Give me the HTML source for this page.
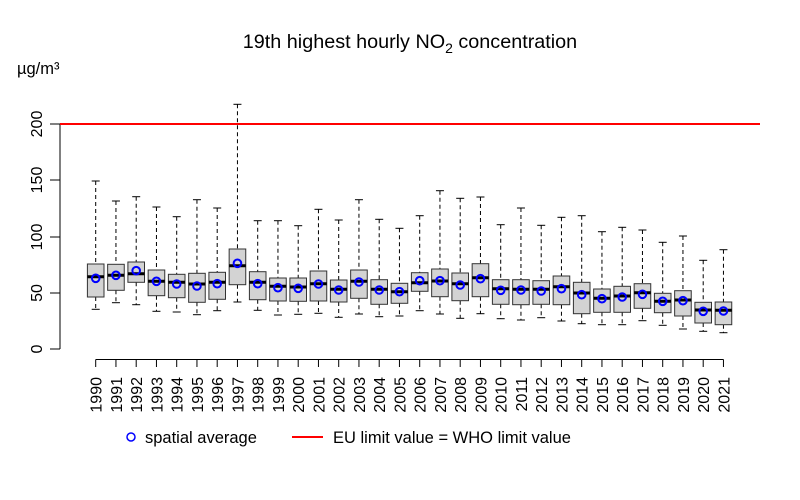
<!DOCTYPE html>
<html><head><meta charset="utf-8"><style>
html,body{margin:0;padding:0;background:#fff}
svg{display:block;font-family:"Liberation Sans",Arial,sans-serif}
</style></head><body>
<svg id="s" width="800" height="500" viewBox="0 0 800 500" xmlns="http://www.w3.org/2000/svg">
<rect width="800" height="500" fill="#fff"/>
<text x="410" y="48" font-size="19.8" text-anchor="middle">19th highest hourly NO<tspan font-size="14" dy="5">2</tspan><tspan dy="-5"> concentration</tspan></text>
<text x="17" y="74" font-size="16.5">µg/m³</text>
<g stroke="#000" stroke-width="1" fill="none">
<line x1="60" y1="124" x2="60" y2="349"/>
<line x1="50" y1="124" x2="60" y2="124"/>
<line x1="50" y1="180" x2="60" y2="180"/>
<line x1="50" y1="237" x2="60" y2="237"/>
<line x1="50" y1="293" x2="60" y2="293"/>
<line x1="50" y1="349" x2="60" y2="349"/>
</g>
<g font-size="16" text-anchor="middle">
<text transform="translate(42,124) rotate(-90)">200</text>
<text transform="translate(42,180) rotate(-90)">150</text>
<text transform="translate(42,237) rotate(-90)">100</text>
<text transform="translate(42,293) rotate(-90)">50</text>
<text transform="translate(42,349) rotate(-90)">0</text>
</g>
<line x1="60" y1="124" x2="760" y2="124" stroke="#f00" stroke-width="2"/>
<g id="boxes"></g>
<g id="xax"></g>
<circle cx="131" cy="437" r="4" fill="none" stroke="#00f" stroke-width="1.5"/>
<text x="145" y="443" font-size="16.5">spatial average</text>
<line x1="292" y1="437" x2="323" y2="437" stroke="#f00" stroke-width="2"/>
<text x="333" y="443" font-size="16.5">EU limit value = WHO limit value</text>
</svg>
<script>
var d=[
[181,264,276.7,297,309.3,278.3],[201,264.3,275.3,290.3,302.7,275.3],[196.7,262,273.7,282.3,304.7,270.7],
[207,270,281.3,295.7,311.3,281.3],[216.7,274.3,282.3,297.7,312,284],[199.7,273.3,284,302.3,314.7,286],
[208,272.3,282.3,299.3,310.7,283.7],[104.3,249,265.7,284.7,302,263.3],[220.7,271.7,282.3,299.7,310.3,283.7],
[220.7,278,286.3,301,315,287.7],[225.7,278,287,301.3,314.3,288.3],[209.3,271,283.7,301,313.3,284],
[220,280,289.3,302,317.3,290],[199.7,270,281.3,298.3,314,282],[219.3,279.7,289.3,304.3,316.7,290],
[228.3,283.3,291.7,303.3,316,291.7],[215.7,272.7,282.7,291.3,310.7,280.7],[190.7,269,281,296.7,314,280.7],
[198.3,273,283.7,300.7,318.3,285],[197,263.7,277.7,296.7,313.7,278.7],[224.7,279.7,288.7,304.3,318.7,290.3],
[208,279.7,289.3,304.7,320,290],[225.3,280.7,289.3,304.3,317.7,291],[217.3,276,286.7,304.7,321,288.7],
[215.7,282.3,293,313.7,323.7,294.7],[231.7,289,298.3,312.3,324.7,298.7],[227.3,286.3,296,312.3,324.7,297],
[230,283.7,292.7,308.3,320.7,294.3],[242.3,293.3,301.3,312.7,325.3,301.3],[236,290.7,300,316,329,300.7],
[260.3,302.3,310,323,331.3,311.3],[249.7,302,310.3,324.7,332.7,311]];
var h="";
for(var i=0;i<d.length;i++){var c=95.7+20.25*i,r=d[i],w=8.3;
h+='<line x1="'+c+'" y1="'+r[0]+'" x2="'+c+'" y2="'+r[1]+'" stroke="#000" stroke-dasharray="4,3"/>';
h+='<line x1="'+c+'" y1="'+r[3]+'" x2="'+c+'" y2="'+r[4]+'" stroke="#000" stroke-dasharray="4,3"/>';
h+='<line x1="'+(c-4)+'" y1="'+r[0]+'" x2="'+(c+4)+'" y2="'+r[0]+'" stroke="#000"/>';
h+='<line x1="'+(c-4)+'" y1="'+r[4]+'" x2="'+(c+4)+'" y2="'+r[4]+'" stroke="#000"/>';
h+='<rect x="'+(c-w)+'" y="'+r[1]+'" width="'+(2*w)+'" height="'+(r[3]-r[1])+'" fill="#d3d3d3" stroke="#333"/>';
h+='<line x1="'+(c-w)+'" y1="'+r[2]+'" x2="'+(c+w)+'" y2="'+r[2]+'" stroke="#000" stroke-width="3"/>';
h+='<circle cx="'+c+'" cy="'+r[5]+'" r="3.8" fill="none" stroke="#00f" stroke-width="2"/>';}
document.getElementById("boxes").innerHTML=h;
var x='<line x1="95.7" y1="359.5" x2="723.5" y2="359.5" stroke="#000"/>';
for(var i=0;i<32;i++){var c=95.7+20.25*i;
x+='<line x1="'+c+'" y1="359.5" x2="'+c+'" y2="367" stroke="#000"/>';
x+='<text font-size="16" text-anchor="end" transform="translate('+(c+6)+',377) rotate(-90)">'+(1990+i)+'</text>';}
document.getElementById("xax").innerHTML=x;
</script>
</body></html>
